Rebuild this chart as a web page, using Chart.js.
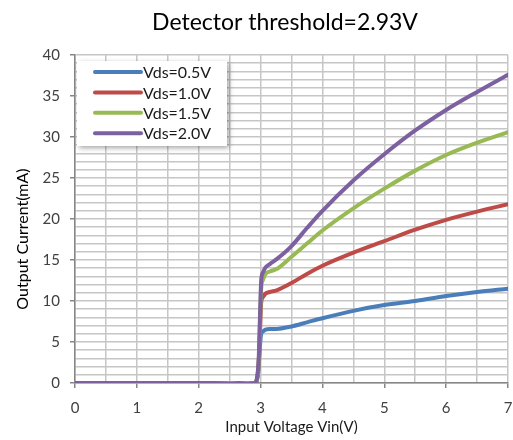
<!DOCTYPE html>
<html>
<head>
<meta charset="utf-8">
<script src="https://cdn.jsdelivr.net/npm/chart.js@4.4.1/dist/chart.umd.min.js"></script>
<style>
  html, body { margin: 0; padding: 0; background: #ffffff; }
  #wrap { width: 513px; height: 440px; position: relative; }
</style>
</head>
<body>
<div id="wrap"><canvas id="c" width="513" height="440"></canvas></div>
<script>
// ---- data ----
const chartTitle = "Detector threshold=2.93V";
const xTitle = "Input Voltage Vin(V)";
const yTitle = "Output Current(mA)";
const seriesLabels = ["Vds=0.5V", "Vds=1.0V", "Vds=1.5V", "Vds=2.0V"];
const vin = [0, 0.5, 1, 1.5, 2, 2.2, 2.5, 2.8, 2.9, 2.94, 2.97, 2.99, 3.01, 3.04, 3.08, 3.15, 3.26, 3.5, 3.75, 4, 4.5, 5, 5.5, 6, 6.5, 7];
const iVds05 = [0, 0, 0, 0, 0, -0.1, -0.2, -0.2, -0.1, 0.3, 2, 4.5, 6.0, 6.3, 6.5, 6.6, 6.6, 6.9, 7.4, 7.9, 8.8, 9.5, 10.0, 10.6, 11.1, 11.5];
const iVds10 = [0, 0, 0, 0, 0, -0.05, -0.1, -0.1, 0, 0.4, 2.5, 6, 9.8, 10.5, 10.9, 11.1, 11.3, 12.2, 13.3, 14.3, 15.9, 17.3, 18.7, 19.9, 20.9, 21.8];
const iVds15 = [0, 0, 0, 0, 0, -0.05, -0.1, -0.1, 0, 0.4, 2.5, 7, 11.5, 12.6, 13.3, 13.6, 13.9, 15.4, 17.0, 18.6, 21.3, 23.7, 25.9, 27.8, 29.3, 30.6];
const iVds20 = [0, 0, 0, 0, 0, 0, -0.05, -0.05, 0, 0.5, 3, 8, 12.5, 13.5, 14.1, 14.5, 15.1, 16.7, 18.9, 21.0, 24.7, 27.9, 30.8, 33.3, 35.5, 37.6];
const seriesValues = [iVds05, iVds10, iVds15, iVds20];
const seriesColors = ["#4A7EBB", "#BE4B48", "#98B954", "#7D60A0"];

const FONT = "Lato, 'Open Sans', 'Liberation Sans', sans-serif";

const datasets = seriesLabels.map((lab, k) => ({
  label: lab,
  data: vin.map((x, i) => ({ x: x, y: seriesValues[k][i] })),
  borderColor: seriesColors[k],
  backgroundColor: seriesColors[k],
  borderWidth: 4,
  pointRadius: 0,
  showLine: true,
  fill: false,
  cubicInterpolationMode: 'monotone',
  borderCapStyle: 'round',
  borderJoinStyle: 'round',
  order: seriesLabels.length - k
}));

const textPlugin = {
  id: 'textPlugin',
  afterDraw(chart) {
    const ctx = chart.ctx;
    const a = chart.chartArea;
    ctx.save();
    // chart title
    ctx.fillStyle = '#000000';
    ctx.font = "23px " + FONT;
    ctx.textAlign = 'center';
    ctx.textBaseline = 'alphabetic';
    ctx.fillText(chartTitle, 285, 30);
    // y axis title
    ctx.save();
    ctx.translate(23, 239);
    ctx.rotate(-Math.PI / 2);
    ctx.font = "16px " + FONT;
    ctx.textAlign = 'center';
    ctx.textBaseline = 'middle';
    ctx.fillText(yTitle, 0, 0);
    ctx.restore();
    // legend box
    const bx = a.left + 2, by = a.top + 6, bw = 150, bh = 85;
    ctx.save();
    ctx.shadowColor = 'rgba(0,0,0,0.35)';
    ctx.shadowBlur = 5;
    ctx.shadowOffsetX = 2;
    ctx.shadowOffsetY = 2;
    ctx.fillStyle = '#ffffff';
    ctx.fillRect(bx, by, bw, bh);
    ctx.restore();
    chart.data.datasets.forEach((ds, k) => {
      const yy = by + 11 + k * 20.4;
      ctx.strokeStyle = ds.borderColor;
      ctx.lineWidth = 4;
      ctx.lineCap = 'round';
      ctx.beginPath();
      ctx.moveTo(bx + 18, yy);
      ctx.lineTo(bx + 64, yy);
      ctx.stroke();
      ctx.fillStyle = '#1a1a1a';
      ctx.font = "16px " + FONT;
      ctx.textAlign = 'left';
      ctx.textBaseline = 'middle';
      ctx.fillText(ds.label, bx + 66, yy + 1);
    });
    ctx.restore();
  }
};

new Chart(document.getElementById('c'), {
  type: 'scatter',
  data: { datasets: datasets },
  options: {
    responsive: false,
    animation: false,
    devicePixelRatio: 1,
    layout: { padding: { left: 0, right: 5, top: 55, bottom: 0 } },
    plugins: {
      legend: { display: false },
      title: { display: false },
      tooltip: { enabled: false }
    },
    scales: {
      x: {
        type: 'linear',
        min: 0, max: 7,
        afterFit(scale) { scale.height = 57; scale.paddingRight = 0; scale.paddingLeft = 0; },
        ticks: {
          stepSize: 0.5,
          autoSkip: false,
          maxRotation: 0,
          padding: 11,
          color: '#404040',
          font: { family: FONT, size: 15 },
          callback: (v) => (Math.abs(v - Math.round(v)) < 1e-6 ? String(Math.round(v)) : '')
        },
        grid: {
          color: '#c6c6c6',
          lineWidth: 1.5,
          tickLength: 5,
          tickColor: (c) => (c.tick && Math.abs(c.tick.value - Math.round(c.tick.value)) < 1e-6 ? '#868686' : 'rgba(0,0,0,0)')
        },
        border: { color: '#868686', width: 1.5 },
        title: {
          display: true,
          text: xTitle,
          color: '#1a1a1a',
          font: { family: FONT, size: 15 },
          padding: { top: 0, bottom: 4 }
        }
      },
      y: {
        type: 'linear',
        min: 0, max: 40,
        afterFit(scale) { scale.width = 75; scale.paddingTop = 0; scale.paddingBottom = 0; },
        ticks: {
          stepSize: 1,
          autoSkip: false,
          padding: 10,
          color: '#404040',
          font: { family: FONT, size: 15 },
          callback: (v) => (v % 5 === 0 ? String(v) : '')
        },
        grid: {
          color: '#c6c6c6',
          lineWidth: 1.5,
          tickLength: 5,
          tickColor: (c) => (c.tick && c.tick.value % 5 === 0 ? '#868686' : 'rgba(0,0,0,0)')
        },
        border: { color: '#868686', width: 1.5 }
      }
    }
  },
  plugins: [textPlugin]
});
</script>
</body>
</html>
